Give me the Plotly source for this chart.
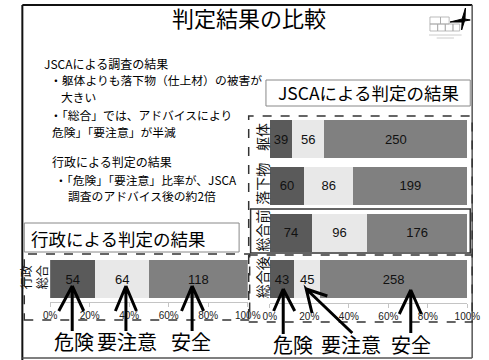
import plotly.graph_objects as go

# ---------------- data ----------------
jsca_categories = ["躯体", "落下物", "総合前", "総合後"]
jsca_danger = [39, 60, 74, 43]
jsca_caution = [56, 86, 96, 45]
jsca_safe = [250, 199, 176, 258]

gov_categories = ["行政<br>総合"]
gov_danger = [54]
gov_caution = [64]
gov_safe = [118]

series_names = ["危険", "要注意", "安全"]
tick_vals = [0, 20, 40, 60, 80, 100]
tick_text = ["0%", "20%", "40%", "60%", "80%", "100%"]

# ---------------- helpers ----------------
W, H = 489, 360
def px(x):
    return x / W
def py(y):
    return 1 - y / H

FONT = "Liberation Sans, Noto Sans CJK JP, sans-serif"
JFONT = "Noto Sans CJK JP, sans-serif"
colors = ["#5a5a5a", "#e8e8e8", "#808080"]

fig = go.Figure()

jsca_series = [jsca_danger, jsca_caution, jsca_safe]
gov_series = [gov_danger, gov_caution, gov_safe]

for name, vals, col in zip(series_names, jsca_series, colors):
    fig.add_trace(go.Bar(
        y=jsca_categories, x=vals, name=name, orientation="h",
        marker=dict(color=col, line=dict(width=0)),
        text=vals, textposition="inside", insidetextanchor="middle",
        textangle=0, constraintext="none",
        textfont=dict(color="#111", size=13, family=FONT),
        xaxis="x", yaxis="y", showlegend=False, hoverinfo="skip"))

for name, vals, col in zip(series_names, gov_series, colors):
    fig.add_trace(go.Bar(
        y=gov_categories, x=vals, name=name, orientation="h",
        marker=dict(color=col, line=dict(width=0)),
        text=vals, textposition="inside", insidetextanchor="middle",
        textangle=0, constraintext="none",
        textfont=dict(color="#111", size=13, family=FONT),
        xaxis="x2", yaxis="y2", showlegend=False, hoverinfo="skip"))

xax = dict(range=[0, 100], tickmode="array", tickvals=tick_vals, ticktext=tick_text,
           showgrid=False, zeroline=False, showline=True, linecolor="#c4c4c4",
           linewidth=1, ticks="outside", ticklen=4, tickcolor="#c4c4c4",
           tickfont=dict(size=10, color="#222", family=FONT), fixedrange=True)

fig.update_layout(
    width=W, height=H, autosize=False,
    margin=dict(l=0, r=0, t=0, b=0),
    paper_bgcolor="white", plot_bgcolor="white",
    barmode="stack", barnorm="percent", bargap=0.19,
    xaxis=dict(xax, domain=[px(274), px(480)], anchor="y"),
    yaxis=dict(domain=[py(302.8), py(115.6)], autorange="reversed",
               type="category", tickangle=-90, showline=False, ticks="",
               showgrid=False, anchor="x", ticklabelstandoff=-2,
               tickfont=dict(size=14, color="#111", family=JFONT)),
    xaxis2=dict(xax, domain=[px(45), px(251)], anchor="y2"),
    yaxis2=dict(domain=[py(302.4), py(255.6)], range=[0.5, -0.5],
                type="category", tickangle=-90, showline=False, ticks="",
                showgrid=False, anchor="x2",
                tickfont=dict(size=12, color="#111", family=JFONT)),
)

shapes = []
def rect(x0, y0, x1, y1, color="#000", width=1, dash="solid"):
    shapes.append(dict(type="rect", xref="paper", yref="paper",
                       x0=px(x0), x1=px(x1), y0=py(y1), y1=py(y0),
                       line=dict(color=color, width=width, dash=dash),
                       fillcolor="rgba(0,0,0,0)", layer="above"))
def line(x0, y0, x1, y1, color="#000", width=1, dash="solid"):
    shapes.append(dict(type="line", xref="paper", yref="paper",
                       x0=px(x0), x1=px(x1), y0=py(y0), y1=py(y1),
                       line=dict(color=color, width=width, dash=dash),
                       layer="above"))
def arrow(tip, tail, w1, w2):
    path = "M {} {} L {} {} L {} {} M {} {} L {} {}".format(
        px(tail[0]), py(tail[1]), px(tip[0]), py(tip[1]), px(w1[0]), py(w1[1]),
        px(tip[0]), py(tip[1]), px(w2[0]), py(w2[1]))
    shapes.append(dict(type="path", xref="paper", yref="paper", path=path,
                       line=dict(color="#000", width=3), layer="above"))

# slide frame
line(16, 5, 16, 360, "#111", 2)
line(16, 5, 485, 5, "#111", 2)
line(485, 5, 485, 358, "#555", 1.5)
line(16, 358, 485, 358, "#555", 1.5)

# label boxes
rect(270, 80, 483, 106, "#888", 1)
rect(18, 223, 242, 252, "#888", 1)

# dashed groupings
rect(252, 116, 485, 322, "#333", 1.5, "dash")
rect(254, 209, 483, 253, "#333", 1.5)
line(252, 255, 485, 255, "#333", 1.5, "dash")
rect(18, 254, 253, 320, "#333", 1.5, "dash")

# arrows (left)
arrow((68, 286), (68, 331), (54, 311), (80, 311))
arrow((124, 286), (124, 331), (113, 311), (135, 311))
arrow((193, 286), (193, 331), (182, 311), (205, 311))
# arrows (right)
arrow((288, 289), (288, 334), (278, 311), (300, 311))
arrow((312, 289), (360, 333), (318, 313), (334, 296))
arrow((421, 290), (421, 333), (409, 314), (432, 314))

# logo
for (a, b) in [(441, 452), (452, 461)]:
    rect(a, 17, b, 24, "#aaa", 0.8)
for (a, b) in [(441, 449), (449, 457), (457, 465), (465, 472)]:
    rect(a, 24, b, 31, "#aaa", 0.8)
star = "M {} {} L {} {} L {} {} L {} {} L {} {} L {} {} L {} {} L {} {} Z".format(
    px(478), py(8), px(477.5), py(19), px(483), py(20), px(477), py(21),
    px(474), py(30), px(474.5), py(22), px(462), py(22), px(474.5), py(19))
shapes.append(dict(type="path", xref="paper", yref="paper", path=star,
                   line=dict(color="#000", width=1), fillcolor="#000", layer="above"))
line(440, 35, 474, 35, "#ccc", 1)
line(448, 38, 466, 38, "#ccc", 1)

fig.update_layout(shapes=shapes)

ann = []
def text(x, y, s, size, anchor="left", color="#000", family=JFONT):
    ann.append(dict(xref="paper", yref="paper", x=px(x), y=py(y), text=s,
                    showarrow=False, xanchor=anchor, yanchor="middle", align="left",
                    font=dict(size=size, color=color, family=family)))

text(252, 17, "判定結果の比較", 22, "center")
text(37, 63, "JSCAによる調査の結果", 12)
text(43, 79.5, "・躯体よりも落下物（仕上材）の被害が", 11.8)
text(54, 97, "大きい", 11.8)
text(43, 115, "・「総合」では、アドバイスにより", 11.8)
text(45, 131, "危険」「要注意」が半減", 11.8)
text(45, 162, "行政による判定の結果", 12)
text(48, 179, "・「危険」「要注意」比率が、JSCA", 11.8)
text(62, 196, "調査のアドバイス後の約2倍", 11.8)

text(376.5, 93, "JSCAによる判定の結果", 17.5, "center")
text(23, 238, "行政による判定の結果", 17.5)

for x, s in [(70, "危険"), (125, "要注意"), (192, "安全")]:
    text(x, 341, s, 20, "center")
for x, s in [(298, "危険"), (359, "要注意"), (421, "安全")]:
    text(x, 344, s, 20, "center")

fig.update_layout(annotations=ann)

fig.write_html("out.html")
